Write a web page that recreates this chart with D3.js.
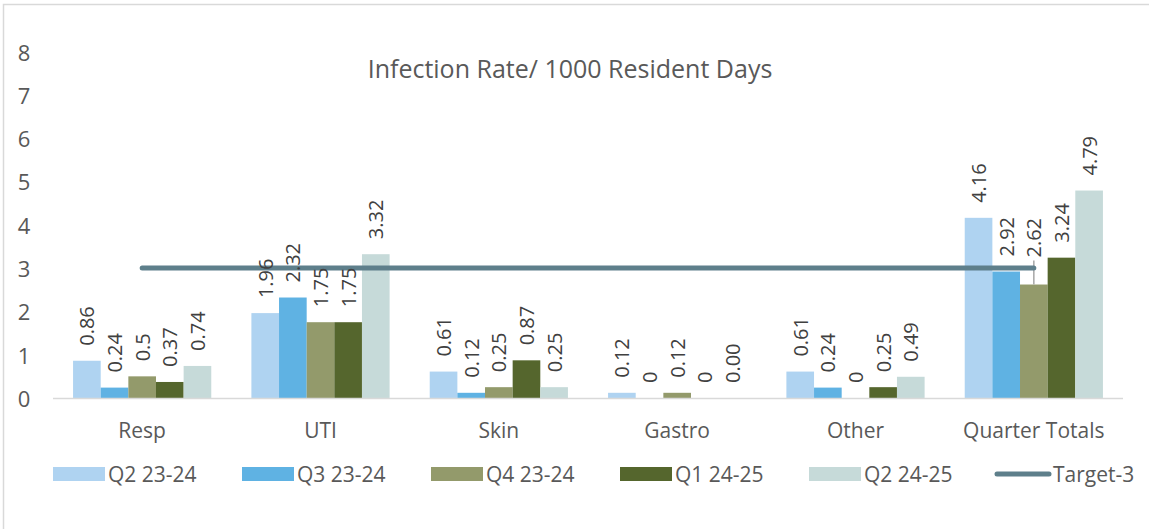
<!DOCTYPE html>
<html><head><meta charset="utf-8">
<script src="https://cdn.jsdelivr.net/npm/d3@7"></script>
<style>
html,body{margin:0;padding:0;background:#fff;}
svg{display:block;font-family:"Open Sans","Noto Sans",sans-serif;}
</style></head>
<body>
<svg id="chart" width="1149" height="529"></svg>
<script>
const categories = ["Resp","UTI","Skin","Gastro","Other","Quarter Totals"];
const seriesNames = ["Q2 23-24","Q3 23-24","Q4 23-24","Q1 24-25","Q2 24-25"];
const q2_2324 = [0.86,1.96,0.61,0.12,0.61,4.16];
const q3_2324 = [0.24,2.32,0.12,0,0.24,2.92];
const q4_2324 = [0.5,1.75,0.25,0.12,0,2.62];
const q1_2425 = [0.37,1.75,0.87,0,0.25,3.24];
const q2_2425 = [0.74,3.32,0.25,0.00,0.49,4.79];
const labels_q2_2324 = ["0.86","1.96","0.61","0.12","0.61","4.16"];
const labels_q3_2324 = ["0.24","2.32","0.12","0","0.24","2.92"];
const labels_q4_2324 = ["0.5","1.75","0.25","0.12","0","2.62"];
const labels_q1_2425 = ["0.37","1.75","0.87","0","0.25","3.24"];
const labels_q2_2425 = ["0.74","3.32","0.25","0.00","0.49","4.79"];
const targetName = "Target-3";
const targetValue = 3;
const yTicks = [0,1,2,3,4,5,6,7,8];
const title = "Infection Rate/ 1000 Resident Days";

const seriesValues = [q2_2324,q3_2324,q4_2324,q1_2425,q2_2425];
const seriesLabels = [labels_q2_2324,labels_q3_2324,labels_q4_2324,labels_q1_2425,labels_q2_2425];
const colors = ["#afd3f1","#5fb2e3","#939a6b","#55662d","#c6dad9"];
const targetColor = "#5e7f8b";
const textColor = "#595959";

const svg = d3.select("#chart");

// chart border
svg.append("path").attr("d","M3.5,529 V4.5 H1149").attr("fill","none").attr("stroke","#d9d9d9").attr("stroke-width",1.5);

const x0 = d3.scaleBand().domain(categories).range([53,1123]).paddingInner(0.225).paddingOuter(0.1125);
const x1 = d3.scaleBand().domain(seriesNames).range([0,x0.bandwidth()]);
const y = d3.scaleLinear().domain([0,8]).range([398,51.5]);

// title
svg.append("text").attr("x",570).attr("y",68).attr("text-anchor","middle").attr("dominant-baseline","central")
  .attr("fill",textColor).style("font-size","25px").text(title);

// y tick labels
svg.append("g").selectAll("text").data(yTicks).join("text")
  .attr("x",24).attr("y",d=>y(d)).attr("text-anchor","middle").attr("dominant-baseline","central")
  .attr("fill",textColor).style("font-size","22px").text(d=>d);

// bars
const flat = [];
seriesNames.forEach((s,si)=>categories.forEach((c,ci)=>flat.push({s,si,c,v:seriesValues[si][ci],lab:seriesLabels[si][ci]})));

svg.append("g").selectAll("rect").data(flat).join("rect")
  .attr("x",d=>x0(d.c)+x1(d.s)).attr("width",x1.bandwidth())
  .attr("y",d=>y(d.v)).attr("height",d=>y(0)-y(d.v))
  .attr("fill",d=>colors[d.si]);

// x axis line
svg.append("line").attr("x1",53).attr("x2",1123).attr("y1",y(0)+0.5).attr("y2",y(0)+0.5)
  .attr("stroke","#d9d9d9").attr("stroke-width",1.5);

// category labels
svg.append("g").selectAll("text").data(categories).join("text")
  .attr("x",d=>x0(d)+x0.bandwidth()/2).attr("y",430).attr("text-anchor","middle").attr("dominant-baseline","central")
  .attr("fill",textColor).style("font-size","21px").text(d=>d);

// label moved by hand in the original (with a leader line)
const moved = {s:"Q4 23-24", c:"Quarter Totals", lift:12};
const gap = 15;
const liftOf = d => (d.s===moved.s && d.c===moved.c) ? moved.lift : 0;

// leader line
flat.filter(d=>liftOf(d)>0).forEach(d=>{
  const cx = x0(d.c)+x1(d.s)+x1.bandwidth()/2;
  svg.append("line").attr("x1",cx).attr("x2",cx).attr("y1",y(d.v)-gap-liftOf(d)+3).attr("y2",y(d.v))
    .attr("stroke","#a6a6a6").attr("stroke-width",1.5);
});

// target line
const tx1 = x0(categories[0])+x0.bandwidth()/2;
const tx2 = x0(categories[categories.length-1])+x0.bandwidth()/2;
svg.append("line").attr("x1",tx1).attr("x2",tx2).attr("y1",y(targetValue)).attr("y2",y(targetValue))
  .attr("stroke",targetColor).attr("stroke-width",5).attr("stroke-linecap","round");

// data labels
svg.append("g").selectAll("text").data(flat).join("text")
  .attr("transform",d=>`translate(${x0(d.c)+x1(d.s)+x1.bandwidth()/2},${y(d.v)-gap-liftOf(d)}) rotate(-90)`)
  .attr("text-anchor","start").attr("dominant-baseline","central")
  .attr("fill","#404040").style("font-size","20px").text(d=>d.lab);

// legend
const legend = svg.append("g");
const legendItems = seriesNames.concat([targetName]);
legendItems.forEach((name,i)=>{
  const lx = 53 + i*189;
  if (i < seriesNames.length) {
    legend.append("rect").attr("x",lx).attr("y",467).attr("width",52).attr("height",14).attr("fill",colors[i]);
  } else {
    legend.append("line").attr("x1",lx-1).attr("x2",lx+51).attr("y1",474).attr("y2",474)
      .attr("stroke",targetColor).attr("stroke-width",5).attr("stroke-linecap","round");
  }
  legend.append("text").attr("x",lx+55).attr("y",474).attr("dominant-baseline","central")
    .attr("fill",textColor).style("font-size","21px").text(name);
});
</script>
</body></html>
